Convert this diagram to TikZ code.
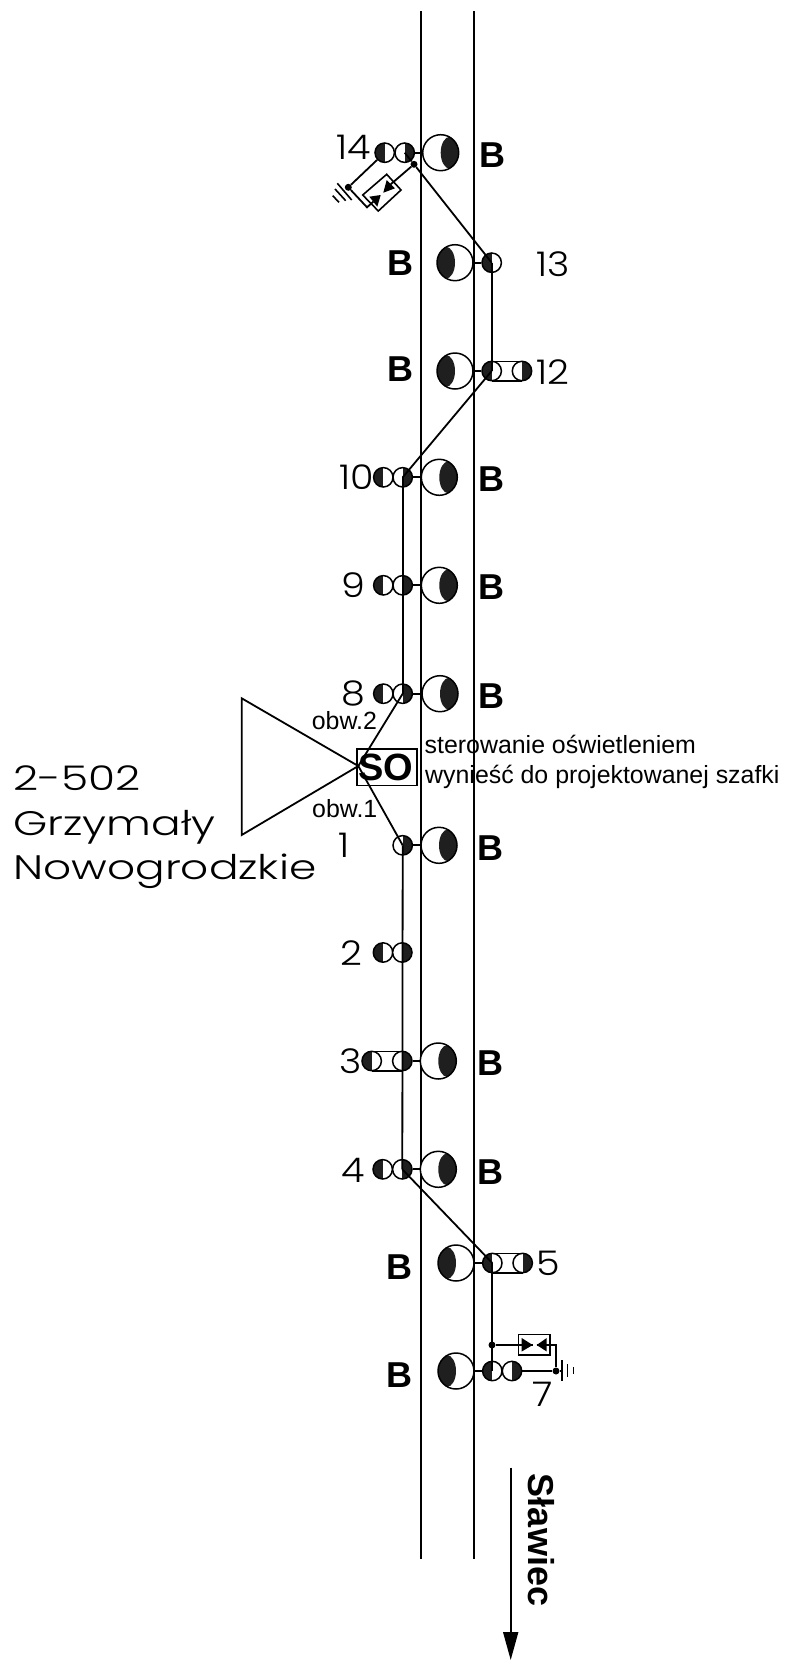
\documentclass[tikz,border=0pt]{standalone}
\usepackage{fontspec}
\setmainfont{Liberation Sans}
\newfontfamily\cadfont{Poppins Light}
\usetikzlibrary{arrows.meta}
\definecolor{lampdark}{gray}{0.12}
\tikzset{
  x=1pt,y=-1pt,
  wire/.style={line width=1.8pt,black},
  thinwire/.style={line width=1.6pt,black},
  smallbase/.style={circle,draw,line width=1.5pt,minimum size=19.4pt,inner sep=0pt,fill=white},
  halfL/.style={smallbase,path picture={\fill[lampdark] (-12pt,-12pt) rectangle (0pt,12pt);}},
  halfR/.style={smallbase,path picture={\fill[lampdark] (12pt,-12pt) rectangle (0pt,12pt);}},
  bigbase/.style={circle,draw,line width=1.5pt,minimum size=36pt,inner sep=0pt,fill=white},
  bigR/.style={bigbase,path picture={\fill[lampdark] (9.2pt,0pt) ellipse (9.2pt and 16pt);}},
  bigL/.style={bigbase,path picture={\fill[lampdark] (-9.2pt,0pt) ellipse (9.2pt and 16pt);}},
  dotn/.style={circle,fill=black,minimum size=7pt,inner sep=0pt},
  blab/.style={font=\fontsize{36}{36}\selectfont\bfseries,anchor=base,inner sep=0pt},
  cadtext/.style={font=\cadfont\fontsize{34}{34}\selectfont,anchor=base west,inner sep=0pt},
  cad/.style={cadtext,xscale=1.12},
  cadwide/.style={cadtext,xscale=1.29},
  arial/.style={font=\fontsize{24.9}{25}\selectfont,anchor=base west,inner sep=0pt},
  tri/.style={fill=black,draw=none},
}
\begin{document}
\begin{tikzpicture}
\useasboundingbox (0,0) rectangle (787,1660);
% rails
\coordinate (r1t) at (420.7,11); \coordinate (r1b) at (420.7,1559);
\coordinate (r2t) at (474.3,11); \coordinate (r2b) at (474.3,1559);
\draw[wire] (r1t) -- (r1b);
\draw[wire] (r2t) -- (r2b);
% big lamps
\node[bigR] (b14) at (440.7,152.7) {};
\node[bigL] (b13) at (455,262.7) {};
\node[bigL] (b12) at (455,371) {};
\node[bigR] (b10) at (439.3,477.3) {};
\node[bigR] (b9) at (439.3,585.3) {};
\node[bigR] (b8) at (440,693.7) {};
\node[bigR] (b1) at (439,845.3) {};
\node[bigR] (b3) at (438.3,1061) {};
\node[bigR] (b4) at (438.3,1169.3) {};
\node[bigL] (b5) at (456,1263) {};
\node[bigL] (b7) at (456,1371) {};
% pill rails
\coordinate (p12a) at (491.7,361.3); \coordinate (p12b) at (522,361.3);
\coordinate (p12c) at (491.7,380.7); \coordinate (p12d) at (522,380.7);
\draw[thinwire] (p12a) -- (p12b) (p12c) -- (p12d);
\coordinate (p3a) at (371.7,1051.3); \coordinate (p3b) at (402.3,1051.3);
\coordinate (p3c) at (371.7,1070.7); \coordinate (p3d) at (402.3,1070.7);
\draw[thinwire] (p3a) -- (p3b) (p3c) -- (p3d);
\coordinate (p5a) at (492.3,1253.3); \coordinate (p5b) at (522.7,1253.3);
\coordinate (p5c) at (492.3,1272.7); \coordinate (p5d) at (522.7,1272.7);
\draw[thinwire] (p5a) -- (p5b) (p5c) -- (p5d);
% small lamps
\node[halfL] (s14a) at (384.7,152.7) {};
\node[halfR] (s14b) at (404.7,152.7) {};
\node[halfL] (s13) at (491.7,262.7) {};
\node[halfL] (s12a) at (491.7,371) {};
\node[halfR] (s12b) at (522,371) {};
\node[halfL] (s10a) at (383.3,477.3) {};
\node[halfR] (s10b) at (402.7,477.3) {};
\node[halfL] (s9a) at (383.3,585.3) {};
\node[halfR] (s9b) at (402.7,585.3) {};
\node[halfL] (s8a) at (383.3,693.7) {};
\node[halfR] (s8b) at (402.7,693.7) {};
\node[halfR] (s1) at (402.7,845.3) {};
\node[halfL] (s2a) at (383,952.5) {};
\node[halfR] (s2b) at (402.3,952.5) {};
\node[halfL] (s3a) at (371.7,1061) {};
\node[halfR] (s3b) at (402.3,1061) {};
\node[halfL] (s4a) at (382.7,1169.3) {};
\node[halfR] (s4b) at (402.3,1169.3) {};
\node[halfL] (s5a) at (492.3,1263) {};
\node[halfR] (s5b) at (522.7,1263) {};
\node[halfL] (s7a) at (492.3,1371) {};
\node[halfR] (s7b) at (512,1371) {};
% stems
\foreach \sm/\bg in {s14b/b14,s10b/b10,s9b/b9,s8b/b8,s1/b1,s3b/b3,s4b/b4}
  \draw[wire] (\sm.east) -- (\bg.west);
\foreach \sm/\bg in {s13/b13,s12a/b12,s5a/b5,s7a/b7}
  \draw[wire] (\sm.west) -- (\bg.east);
% track connections
\node[dotn] (d14) at (414,164.3) {};
\draw[wire] (s14b.center) -- (d14);
\draw[wire] (d14) -- (s13.center);
\draw[wire] (s13.center) -- (s12a.center);
\draw[wire] (s12a.center) -- (s10b.center);
\draw[wire] (s10b.center) -- (s8b.center);
\draw[wire] (s1.center) -- (s4b.center);
\draw[wire] (s4b.center) -- (s5a.center);
\draw[wire] (s5a.center) -- (s7a.center);
% choke top (rotated box)
\coordinate (k1) at (386.7,174.3); \coordinate (k2) at (401,190);
\coordinate (k3) at (378.3,211); \coordinate (k4) at (362.7,195);
\draw[thinwire] (k1) -- (k2) -- (k3) -- (k4) -- cycle;
\coordinate (t1a) at (386.7,180); \coordinate (t1b) at (395,188.3); \coordinate (t1c) at (383.3,192.7);
\coordinate (t2a) at (369.3,196.7); \coordinate (t2b) at (377.3,206.7); \coordinate (t2c) at (380.7,195);
\fill[tri] (t1a) -- (t1b) -- (t1c) -- cycle;
\fill[tri] (t2a) -- (t2b) -- (t2c) -- cycle;
\coordinate (t1m) at (390.8,184.2);
\coordinate (t2m) at (373.3,201.7);
\coordinate (kc) at (367,207.3);
\node[dotn] (g14) at (348.3,187.3) {};
\draw[wire] (d14) -- (t1m);
\draw[wire] (s14a) -- (g14);
\draw[wire] (g14) -- (kc) -- (t2m);
\coordinate (h1a) at (337.3,183.3); \coordinate (h1b) at (351.7,200);
\coordinate (h2a) at (335,189); \coordinate (h2b) at (345.7,200.7);
\coordinate (h3a) at (332.7,195.7); \coordinate (h3b) at (339,202.3);
\draw[thinwire] (h1a) -- (h1b) (h2a) -- (h2b) (h3a) -- (h3b);
% choke bottom
\node[dotn] (d7) at (492,1345) {};
\node[dotn] (g7) at (556,1371) {};
\node[draw,line width=1.6pt,minimum width=31.7pt,minimum height=20.7pt,inner sep=0pt] (kb) at (534.2,1344.8) {};
\coordinate (u1a) at (521.7,1338); \coordinate (u1b) at (521.7,1351.5); \coordinate (u1c) at (532.7,1345);
\coordinate (u2a) at (546.7,1338); \coordinate (u2b) at (546.7,1351.5); \coordinate (u2c) at (536.7,1345);
\fill[tri] (u1a) -- (u1b) -- (u1c) -- cycle;
\fill[tri] (u2a) -- (u2b) -- (u2c) -- cycle;
\coordinate (kr) at (556,1345);
\draw[wire] (d7) -- (u1c);
\draw[wire] (u2c) -- (kr) -- (g7);
\coordinate (e1a) at (561.7,1360); \coordinate (e1b) at (561.7,1381);
\coordinate (e2a) at (567.3,1364); \coordinate (e2b) at (567.3,1377);
\coordinate (e3a) at (573.3,1367); \coordinate (e3b) at (573.3,1374);
\coordinate (e1m) at (561.7,1371);
\draw[wire] (s7b.east) -- (g7) -- (e1m);
\draw[thinwire] (e1a) -- (e1b) (e2a) -- (e2b) (e3a) -- (e3b);
% triangle and SO
\coordinate (apex) at (358.3,766);
\coordinate (tt) at (241.7,698.3);
\coordinate (tb) at (241.7,835);
\draw[wire,line join=miter] (tt) -- (apex) -- (tb) -- cycle;
\node[draw,line width=1.6pt,minimum width=60.5pt,minimum height=36.7pt,inner sep=0pt,
      font=\fontsize{38}{38}\selectfont\bfseries] (so) at (387,767.3) {\hspace*{-3pt}SO};
\draw[wire] (apex) -- (s8b.center);
\draw[wire] (apex) -- (s1.center);
% B labels
\node[blab] (B14) at (492.7,167.3) {B};
\node[blab] (B13) at (400.7,275.7) {B};
\node[blab] (B12) at (400.7,381.7) {B};
\node[blab] (B10) at (491.7,491.7) {B};
\node[blab] (B9) at (491.7,599.7) {B};
\node[blab] (B8) at (491.7,708.3) {B};
\node[blab] (B1) at (490.7,860) {B};
\node[blab] (B3) at (490.7,1075.7) {B};
\node[blab] (B4) at (490.7,1184) {B};
\node[blab] (B5) at (399.3,1279.3) {B};
\node[blab] (B7) at (399.3,1387.3) {B};
% numbers
\node[cad] (n14) at (336,159) {14};
\node[cad] (n13) at (536,276) {13};
\node[cad] (n12) at (536,384) {12};
\node[cad] (n10) at (339,489) {10};
\node[cad] (n9) at (341,597) {9};
\node[cad] (n8) at (341,705) {8};
\node[cad] (n1) at (338,857) {1};
\node[cad] (n2) at (340,965) {2};
\node[cad] (n3) at (339,1073) {3};
\node[cad] (n4) at (341,1182) {4};
\node[cad] (n5) at (536,1275) {5};
\node[cad] (n7) at (532,1406) {7};
% station
\node[cadwide] (st1) at (13,790) {2-502};
\node[cadwide] (st2) at (13,835) {Grzymały};
\node[cadwide] (st3) at (13,879.3) {Nowogrodzkie};
% arial labels
\node[arial] (ob2) at (311.7,729) {obw.2};
\node[arial] (ob1) at (312,817) {obw.1};
\node[arial] (st) at (424.5,753) {sterowanie oświetleniem};
\node[arial] (wy) at (425,783) {wynieść do projektowanej szafki};
% direction
\coordinate (as) at (510.7,1467.7);
\coordinate (ae) at (510.7,1660);
\draw[wire,-{Triangle[length=28pt,width=15pt]}] (as) -- (ae);
\node[rotate=-90,inner sep=0pt,font=\fontsize{36}{36}\selectfont\bfseries] (sl) at (541.7,1540) {Sławiec};
\end{tikzpicture}
\end{document}
